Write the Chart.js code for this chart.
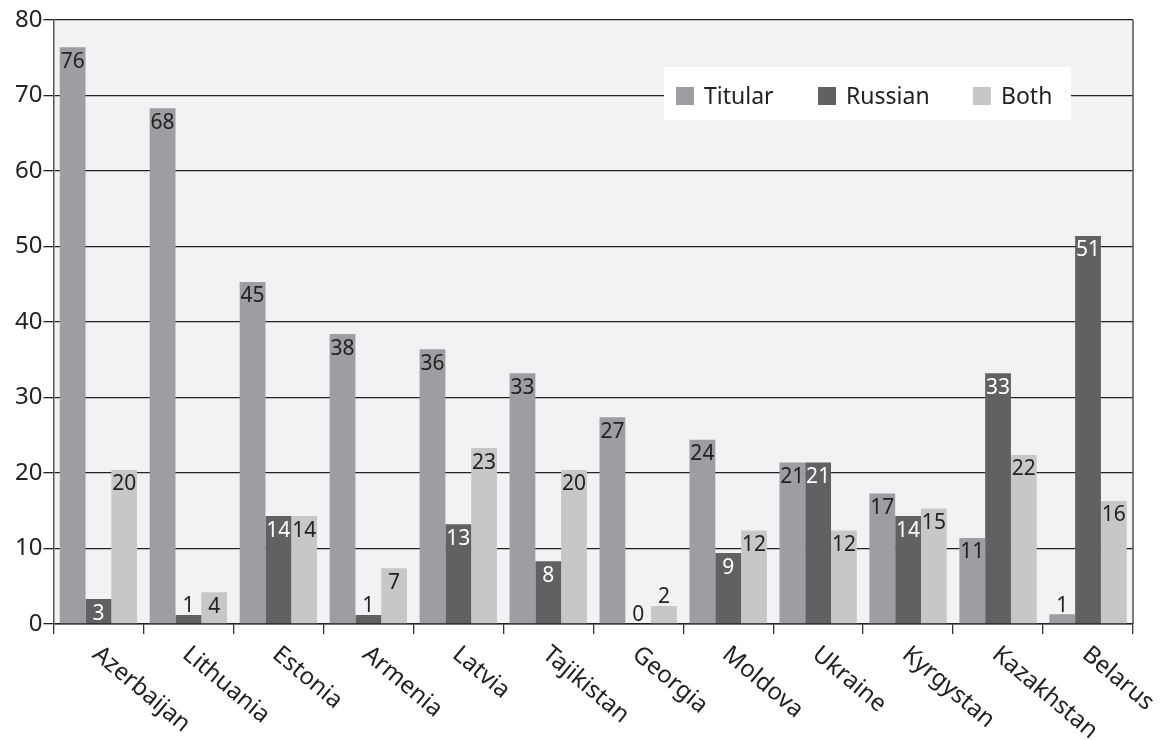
<!DOCTYPE html>
<html>
<head>
<meta charset="utf-8">
<script src="https://cdn.jsdelivr.net/npm/chart.js@4/dist/chart.umd.min.js"></script>
<style>
  html, body { margin: 0; padding: 0; background: #fff; }
  #wrap { width: 1170px; height: 740px; position: relative; }
</style>
</head>
<body>
<div id="wrap"><canvas id="chart" width="1170" height="740"></canvas></div>
<script>
const countries = ['Azerbaijan', 'Lithuania', 'Estonia', 'Armenia', 'Latvia', 'Tajikistan',
    'Georgia', 'Moldova', 'Ukraine', 'Kyrgystan', 'Kazakhstan', 'Belarus'];
const titular = [76.4, 68.3, 45.3, 38.4, 36.4, 33.2, 27.4, 24.4, 21.4, 17.3, 11.4, 1.3];
const russian = [3.3, 1.2, 14.3, 1.2, 13.2, 8.3, 0, 9.4, 21.4, 14.3, 33.2, 51.4];
const both = [20.4, 4.2, 14.3, 7.4, 23.3, 20.4, 2.4, 12.4, 12.4, 15.3, 22.4, 16.3];
const yTicks = [0, 10, 20, 30, 40, 50, 60, 70, 80];

const FONT = '"Noto Sans", "Open Sans", sans-serif';
const colors = { titular: '#9d9ea2', russian: '#616163', both: '#c6c7c9' };

// background of plot area + right border
const areaPlugin = {
    id: 'areaBg',
    beforeDraw(chart) {
        const { ctx, chartArea: a } = chart;
        ctx.save();
        ctx.fillStyle = '#f1f2f4';
        ctx.fillRect(a.left, a.top, a.right - a.left, a.bottom - a.top);
        ctx.restore();
    },
    afterDraw(chart) {
        const { ctx, chartArea: a } = chart;
        ctx.save();
        ctx.strokeStyle = '#555';
        ctx.lineWidth = 1.5;
        ctx.beginPath();
        ctx.moveTo(a.right, a.top);
        ctx.lineTo(a.right, a.bottom);
        ctx.stroke();
        ctx.restore();
    }
};

// value labels on bars, legend box and slanted country names
const labelPlugin = {
    id: 'labels',
    afterDatasetsDraw(chart) {
        const ctx = chart.ctx;
        ctx.save();
        ctx.font = '21px ' + FONT;
        ctx.textAlign = 'center';
        chart.data.datasets.forEach((ds, di) => {
            chart.getDatasetMeta(di).data.forEach((bar, i) => {
                const v = ds.data[i];
                const h = bar.base - bar.y;
                if (h >= 22) {
                    ctx.textBaseline = 'top';
                    ctx.fillStyle = di === 1 ? '#fff' : '#222';
                    ctx.fillText(Math.round(v), bar.x, bar.y + 4);
                } else {
                    ctx.textBaseline = 'bottom';
                    ctx.fillStyle = '#222';
                    ctx.fillText(Math.round(v), bar.x, bar.y + 2);
                }
            });
        });

        // legend
        const lx = 664, ly = 67;
        ctx.fillStyle = '#fff';
        ctx.fillRect(lx, ly, 407, 53);
        ctx.textAlign = 'left';
        ctx.textBaseline = 'middle';
        ctx.font = '23px ' + FONT;
        const items = [['Titular', colors.titular, 676], ['Russian', colors.russian, 818], ['Both', colors.both, 973]];
        items.forEach(([name, col, x]) => {
            ctx.fillStyle = col;
            ctx.fillRect(x, 87, 18, 18);
            ctx.fillStyle = '#222';
            ctx.fillText(name, x + 28, 97);
        });

        // slanted category labels
        const xs = chart.scales.x;
        ctx.font = '24px ' + FONT;
        ctx.textBaseline = 'top';
        countries.forEach((c, i) => {
            const x = xs.getPixelForValue(i);
            ctx.save();
            ctx.translate(x + 5, 642);
            ctx.rotate(40 * Math.PI / 180);
            ctx.fillText(c, 0, 0);
            ctx.restore();
        });
        ctx.restore();
    }
};

new Chart(document.getElementById('chart').getContext('2d'), {
    type: 'bar',
    data: {
        labels: countries,
        datasets: [
            { label: 'Titular', data: titular, backgroundColor: colors.titular },
            { label: 'Russian', data: russian, backgroundColor: colors.russian },
            { label: 'Both', data: both, backgroundColor: colors.both }
        ]
    },
    options: {
        responsive: false,
        animation: false,
        layout: { padding: { left: 14, right: 37, top: 20, bottom: 106 } },
        datasets: { bar: { categoryPercentage: 0.86, barPercentage: 1 } },
        plugins: { legend: { display: false }, tooltip: { enabled: false } },
        scales: {
            x: {
                grid: { drawOnChartArea: false, drawTicks: true, tickLength: 10, color: '#333', lineWidth: 1.3 },
                border: { display: true, color: '#222', width: 1.5 },
                ticks: { display: false }
            },
            y: {
                min: 0,
                max: 80,
                afterBuildTicks(scale) { scale.ticks = yTicks.map(v => ({ value: v })); },
                grid: { color: '#222', lineWidth: 1.3, tickLength: 10 },
                border: { display: true, color: '#555', width: 1.5 },
                ticks: { padding: 1, color: '#222', font: { size: 24, family: FONT } }
            }
        }
    },
    plugins: [areaPlugin, labelPlugin]
});
</script>
</body>
</html>
